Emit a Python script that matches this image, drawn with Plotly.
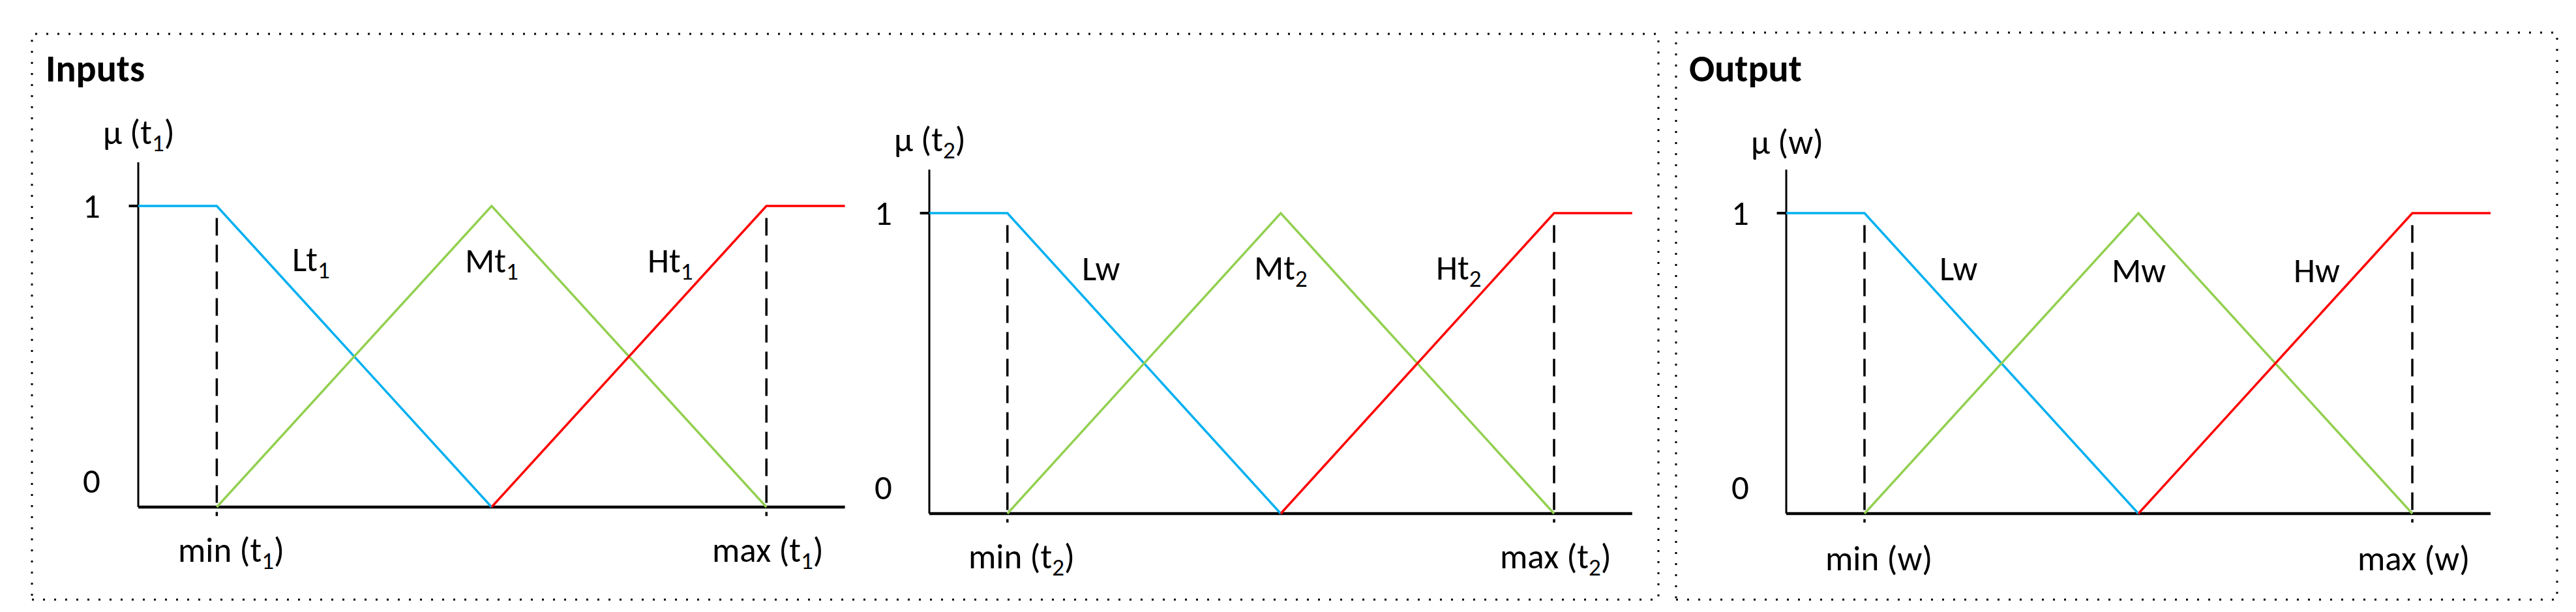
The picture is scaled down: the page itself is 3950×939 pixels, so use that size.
import plotly.graph_objects as go

# ---------------- data ----------------
# membership-function breakpoints (universe normalised: axis=0, min=1, centre=4.5, max=8, end=9)
low_x = [0, 1, 4.5]
low_y = [1, 1, 0]
mid_x = [1, 4.5, 8]
mid_y = [0, 1, 0]
high_x = [4.5, 8, 9]
high_y = [0, 1, 1]
bound_x = [1, 8]          # min / max positions (dashed guides)
axis_x_end = 9
axis_y_top = 1.145

y_titles = ["μ (t<sub>1</sub>)", "μ (t<sub>2</sub>)", "μ (w)"]
min_labels = ["min (t<sub>1</sub>)", "min (t<sub>2</sub>)", "min (w)"]
max_labels = ["max (t<sub>1</sub>)", "max (t<sub>2</sub>)", "max (w)"]
set_labels = [
    ["Lt<sub>1</sub>", "Mt<sub>1</sub>", "Ht<sub>1</sub>"],
    ["Lw", "Mt<sub>2</sub>", "Ht<sub>2</sub>"],
    ["Lw", "Mw", "Hw"],
]
tick_text = ["0", "1"]
group_titles = ["Inputs", "Output"]

# ---------------- styling / geometry ----------------
W, H = 3950, 939
BLUE, GREEN, RED = "#00B0F0", "#92D050", "#FF0000"
FONT = "Calibri, Carlito, Lato, sans-serif"
FS = 53
FS_TITLE = 58

# pixel geometry per panel: origin x, px per x-unit, origin y, px per y-unit, plot-area left/right
geo = [
    dict(x0=204, ux=120.4, y0=770, uy=462, left=60, right=1330),
    dict(x0=1417, ux=119.75, y0=780, uy=461, left=1290, right=2530),
    dict(x0=2731, ux=120.0, y0=780, uy=461, left=2600, right=3900),
]
TOP, BOTTOM = 140, 900

fig = go.Figure()
layout = dict(
    width=W, height=H, margin=dict(l=0, r=0, t=0, b=0),
    paper_bgcolor="white", plot_bgcolor="rgba(0,0,0,0)", showlegend=False,
)
annotations = []

for i, g in enumerate(geo):
    sfx = "" if i == 0 else str(i + 1)
    xa, ya = "x" + sfx, "y" + sfx
    xr = [(g["left"] - g["x0"]) / g["ux"], (g["right"] - g["x0"]) / g["ux"]]
    yr = [(g["y0"] - BOTTOM) / g["uy"], (g["y0"] - TOP) / g["uy"]]
    layout["xaxis" + sfx] = dict(domain=[g["left"] / W, g["right"] / W], range=xr,
                                 visible=False, fixedrange=True, anchor=ya)
    layout["yaxis" + sfx] = dict(domain=[1 - BOTTOM / H, 1 - TOP / H], range=yr,
                                 visible=False, fixedrange=True, anchor=xa)

    def line(x, y, color, width, dash="solid"):
        fig.add_trace(go.Scatter(x=x, y=y, mode="lines", xaxis=xa, yaxis=ya,
                                 line=dict(color=color, width=width, dash=dash),
                                 hoverinfo="skip"))

    # dashed guides at min / max
    for bx in bound_x:
        line([bx, bx], [0.96, -0.03], "black", 3.5, "27px,14px")
    # axes
    line([0, axis_x_end], [0, 0], "black", 4.5)
    line([0, 0], [0, axis_y_top], "black", 3)
    line([-0.12, 0], [1, 1], "black", 4)
    # membership functions
    line(low_x, low_y, BLUE, 3.5)
    line(mid_x, mid_y, GREEN, 3.5)
    line(high_x, high_y, RED, 3.5)

    def ann(x, y, text):
        annotations.append(dict(x=x, y=y, xref=xa, yref=ya, text=text, showarrow=False,
                                xanchor="center", yanchor="middle",
                                font=dict(family=FONT, size=FS, color="black")))

    ann(0.01, 1.237, y_titles[i])
    ann(-0.59, 1.0, tick_text[1])
    ann(-0.59, 0.087, tick_text[0])
    ann(1.18, -0.15, min_labels[i])
    ann(8.02, -0.15, max_labels[i])
    ann(2.2, 0.815, set_labels[i][0])
    ann(4.5, 0.81, set_labels[i][1])
    ann(6.78, 0.81, set_labels[i][2])

# dotted group boxes
shapes = []
for (x1, y1, x2, y2) in [(41, 44, 2535, 912), (2562, 42, 3913, 912)]:
    shapes.append(dict(type="rect", xref="paper", yref="paper",
                       x0=x1 / W, x1=x2 / W, y0=1 - y2 / H, y1=1 - y1 / H,
                       line=dict(color="black", width=3, dash="3px,14px")))
layout["shapes"] = shapes

for title, px in zip(group_titles, [60, 2580]):
    annotations.append(dict(x=px / W, y=1 - 98 / H, xref="paper", yref="paper",
                            text="<b>" + title + "</b>", showarrow=False,
                            xanchor="left", yanchor="middle",
                            font=dict(family=FONT, size=FS_TITLE, color="black")))
layout["annotations"] = annotations

fig.update_layout(**layout)
fig.write_html("out.html")
